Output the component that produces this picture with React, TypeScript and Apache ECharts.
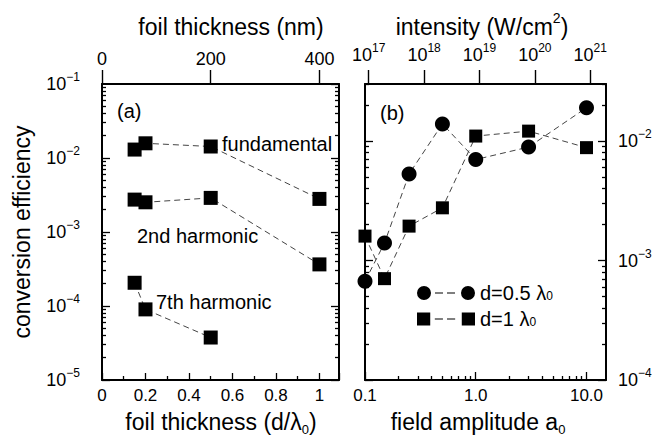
import React, { useEffect, useRef } from "react";
import * as echarts from "echarts";

// ---- data: panel (a) ----
const thicknessD = [0.15, 0.2, 0.5, 1];
const fundamental = [1.3e-2, 1.58e-2, 1.43e-2, 2.8e-3];
const secondHarmonic = [2.74e-3, 2.52e-3, 2.89e-3, 3.65e-4];
const thickness7 = [0.15, 0.2, 0.5];
const seventhHarmonic = [2.06e-4, 9.0e-5, 3.75e-5];

// ---- data: panel (b) ----
const amplitude = [0.1, 0.15, 0.25, 0.5, 1, 3, 10];
const effHalf = [6.7e-4, 1.4e-3, 5.3e-3, 1.39e-2, 7.0e-3, 8.9e-3, 1.9e-2];
const effOne = [1.6e-3, 7.05e-4, 1.94e-3, 2.76e-3, 1.1e-2, 1.21e-2, 8.8e-3];

// ---- tick labels ----
const nmTicks = [0, 200, 400];
const intensityExp = [17, 18, 19, 20, 21];
const dTickLabels = ["0", "0.2", "0.4", "0.6", "0.8", "1"];
const ampTickLabels = ["0.1", "1.0", "10.0"];
const effDecadesA = [-5, -4, -3, -2, -1];
const effDecadesB = [-4, -3, -2, -1];
const ampDecades = [-1, 0, 1];

const LAMBDA_NM = 400;
const D_MAX = 1.09;
const A_MIN = 0.1;
const A_MAX = 15;
const EFF_B_MAX = 3e-2;
// I = 1.37e18 a0^2 / lambda[um]^2
const LOG_C = Math.log10(1.37e18 / Math.pow(LAMBDA_NM / 1000, 2));

const majorsOf = (decades: number[]) => decades.map((e) => Math.pow(10, e));
const minorsOf = (decades: number[]) => {
  const out: number[] = [];
  decades.forEach((e) => {
    for (let k = 2; k <= 9; k++) out.push(k * Math.pow(10, e));
  });
  return out;
};

const FONT = "'Liberation Sans', Arial, Helvetica, sans-serif";

const supRich = {
  b: { fontSize: 18, lineHeight: 26, fontFamily: FONT, color: "#000" },
  s: { fontSize: 12, lineHeight: 12, verticalAlign: "top", fontFamily: FONT, color: "#000" },
};

const powLabel = (v: number) => {
  const e = Math.log10(v);
  const r = Math.round(e);
  if (Math.abs(e - r) > 1e-6) return "";
  return `{b|10}{s|${r < 0 ? "\u2212" + -r : r}}`;
};

const mkLine = () => ({ show: true, onZero: false, lineStyle: { color: "#000", width: 2 } });
const mkTick = () => ({ color: "#000", width: 1.3 });

function logAxis(
  gridIndex: number,
  min: number,
  max: number,
  position: string,
  ticks: number[],
  tickLen: number,
  main: boolean,
  label: any
) {
  return {
    type: "log",
    gridIndex,
    position,
    min,
    max,
    logBase: 10,
    axisLine: main ? mkLine() : { show: false, onZero: false },
    axisTick: { show: true, inside: true, length: tickLen, lineStyle: mkTick(), customValues: ticks },
    minorTick: { show: false },
    splitLine: { show: false },
    minorSplitLine: { show: false },
    axisLabel: label ? label : { show: false },
  };
}

const yLabelLeft = { show: true, margin: 22, formatter: powLabel, rich: supRich };
const yLabelRight = { show: true, margin: 12, formatter: powLabel, rich: supRich };

const lineDash = { type: [6, 4], width: 1, color: "#444" };

function pairs(xs: number[], ys: number[]) {
  return xs.map((x, i) => [x, ys[i]]);
}

const circleIcon =
  "path://M0,7A7,7 0 1 1 14,7A7,7 0 1 1 0,7Z M18,6.5h8v1h-8z M30,6.5h8v1h-8z M44,7A7,7 0 1 1 58,7A7,7 0 1 1 44,7Z";
const squareIcon =
  "path://M0.5,0.5h13v13h-13z M18,6.5h8v1h-8z M30,6.5h8v1h-8z M44.5,0.5h13v13h-13z";

const option: any = {
  animation: false,
  backgroundColor: "#fff",
  textStyle: { fontFamily: FONT },
  grid: [
    { left: 102, top: 84, width: 237, height: 296, outerBoundsMode: "none", containLabel: false },
    { left: 365, top: 84, width: 241, height: 296, outerBoundsMode: "none", containLabel: false },
  ],
  xAxis: [
    {
      type: "value",
      gridIndex: 0,
      position: "bottom",
      min: 0,
      max: D_MAX,
      interval: 0.2,
      axisLine: mkLine(),
      axisTick: { show: true, inside: true, length: 7, lineStyle: mkTick() },
      minorTick: { show: true, splitNumber: 2, length: 4, lineStyle: mkTick() },
      splitLine: { show: false },
      axisLabel: {
        margin: 7,
        fontSize: 17,
        color: "#000",
        fontFamily: FONT,
        showMaxLabel: false,
        formatter: (v: number) => {
          const i = Math.round(v / 0.2);
          return Math.abs(v - i * 0.2) < 1e-6 && i < dTickLabels.length ? dTickLabels[i] : "";
        },
      },
    },
    {
      type: "value",
      gridIndex: 0,
      position: "top",
      min: 0,
      max: D_MAX * LAMBDA_NM,
      axisLine: mkLine(),
      axisTick: { show: true, inside: false, length: 14, lineStyle: { color: "#000", width: 1.4 }, customValues: nmTicks },
      splitLine: { show: false },
      axisLabel: {
        margin: 16,
        fontSize: 18,
        color: "#000",
        fontFamily: FONT,
        customValues: nmTicks,
        formatter: (v: number) => String(v),
      },
    },
    logAxis(1, A_MIN, A_MAX, "bottom", majorsOf(ampDecades), 8, true, {
      margin: 7,
      fontSize: 17,
      color: "#000",
      fontFamily: FONT,
      customValues: majorsOf(ampDecades),
      formatter: (v: number) => ampTickLabels[Math.round(Math.log10(v)) + 1] ?? "",
    }),
    logAxis(1, A_MIN, A_MAX, "bottom", minorsOf(ampDecades), 4, false, null),
    {
      type: "value",
      gridIndex: 1,
      position: "top",
      min: LOG_C + 2 * Math.log10(A_MIN),
      max: LOG_C + 2 * Math.log10(A_MAX),
      axisLine: mkLine(),
      axisTick: { show: true, inside: false, length: 14, lineStyle: { color: "#000", width: 1.4 }, customValues: intensityExp },
      splitLine: { show: false },
      axisLabel: {
        margin: 16,
        customValues: intensityExp,
        formatter: (v: number) => `{b|10}{s|${Math.round(v)}}`,
        rich: supRich,
      },
    },
  ],
  yAxis: [
    logAxis(0, 1e-5, 1e-1, "left", majorsOf(effDecadesA), 8, true, yLabelLeft),
    logAxis(0, 1e-5, 1e-1, "left", minorsOf(effDecadesA), 4, false, null),
    logAxis(0, 1e-5, 1e-1, "right", majorsOf(effDecadesA), 8, true, null),
    logAxis(0, 1e-5, 1e-1, "right", minorsOf(effDecadesA), 4, false, null),
    logAxis(1, 1e-4, EFF_B_MAX, "left", majorsOf(effDecadesB), 8, true, null),
    logAxis(1, 1e-4, EFF_B_MAX, "left", minorsOf(effDecadesB), 4, false, null),
    logAxis(1, 1e-4, EFF_B_MAX, "right", majorsOf(effDecadesB), 8, true, yLabelRight),
    logAxis(1, 1e-4, EFF_B_MAX, "right", minorsOf(effDecadesB), 4, false, null),
  ],
  legend: {
    show: true,
    orient: "vertical",
    left: 417,
    top: 283,
    padding: 0,
    itemWidth: 58,
    itemHeight: 14,
    itemGap: 6,
    selectedMode: false,
    data: [
      { name: "d=0.5 λ0", icon: circleIcon },
      { name: "d=1 λ0", icon: squareIcon },
    ],
    formatter: (name: string) => name.replace("λ0", "λ{sub|0}"),
    textStyle: {
      fontSize: 20,
      lineHeight: 18,
      color: "#000",
      fontFamily: FONT,
      rich: {
        sub: { fontSize: 12, lineHeight: 8, verticalAlign: "bottom", fontFamily: FONT, color: "#000" },
      },
    },
  },
  series: [
    {
      name: "fundamental",
      type: "line",
      xAxisIndex: 0,
      yAxisIndex: 0,
      data: pairs(thicknessD, fundamental),
      symbol: "rect",
      symbolSize: 14,
      itemStyle: { color: "#000" },
      lineStyle: lineDash,
    },
    {
      name: "2nd harmonic",
      type: "line",
      xAxisIndex: 0,
      yAxisIndex: 0,
      data: pairs(thicknessD, secondHarmonic),
      symbol: "rect",
      symbolSize: 14,
      itemStyle: { color: "#000" },
      lineStyle: lineDash,
    },
    {
      name: "7th harmonic",
      type: "line",
      xAxisIndex: 0,
      yAxisIndex: 0,
      data: pairs(thickness7, seventhHarmonic),
      symbol: "rect",
      symbolSize: 14,
      itemStyle: { color: "#000" },
      lineStyle: lineDash,
    },
    {
      name: "d=0.5 λ0",
      type: "line",
      xAxisIndex: 2,
      yAxisIndex: 6,
      data: pairs(amplitude, effHalf),
      symbol: "circle",
      symbolSize: 15,
      itemStyle: { color: "#000" },
      lineStyle: lineDash,
    },
    {
      name: "d=1 λ0",
      type: "line",
      xAxisIndex: 2,
      yAxisIndex: 6,
      data: pairs(amplitude, effOne),
      symbol: "rect",
      symbolSize: 13,
      itemStyle: { color: "#000" },
      lineStyle: lineDash,
    },
  ],
  graphic: [
    { type: "text", left: 117, top: 101, style: { text: "(a)", font: `20px ${FONT}`, fill: "#000" } },
    { type: "text", left: 380, top: 103, style: { text: "(b)", font: `20px ${FONT}`, fill: "#000" } },
    { type: "text", left: 222, top: 134, style: { text: "fundamental", font: `20px ${FONT}`, fill: "#000" } },
    { type: "text", left: 137, top: 226, style: { text: "2nd harmonic", font: `20px ${FONT}`, fill: "#000" } },
    { type: "text", left: 156, top: 292, style: { text: "7th harmonic", font: `20px ${FONT}`, fill: "#000" } },
    {
      type: "text",
      x: 22,
      y: 232,
      rotation: Math.PI / 2,
      style: { text: "conversion efficiency", font: `23px ${FONT}`, fill: "#000", align: "center", verticalAlign: "middle" },
    },
    {
      type: "text",
      x: 231,
      y: 27,
      style: { text: "foil thickness (nm)", font: `23px ${FONT}`, fill: "#000", align: "center", verticalAlign: "middle" },
    },
    {
      type: "text",
      x: 482,
      y: 27,
      style: {
        text: "{m|intensity (W/cm}{s|2}{m|)}",
        fill: "#000",
        align: "center",
        verticalAlign: "middle",
        rich: {
          m: { fontSize: 23, lineHeight: 32, fontFamily: FONT, fill: "#000" },
          s: { fontSize: 14, lineHeight: 14, verticalAlign: "top", fontFamily: FONT, fill: "#000" },
        },
      },
    },
    {
      type: "text",
      x: 221,
      y: 422,
      style: {
        text: "{m|foil thickness (d/λ}{s|0}{m|)}",
        fill: "#000",
        align: "center",
        verticalAlign: "middle",
        rich: {
          m: { fontSize: 23, lineHeight: 28, fontFamily: FONT, fill: "#000" },
          s: { fontSize: 13, lineHeight: 13, verticalAlign: "bottom", fontFamily: FONT, fill: "#000" },
        },
      },
    },
    {
      type: "text",
      x: 478,
      y: 422,
      style: {
        text: "{m|field amplitude a}{s|0}",
        fill: "#000",
        align: "center",
        verticalAlign: "middle",
        rich: {
          m: { fontSize: 23, lineHeight: 28, fontFamily: FONT, fill: "#000" },
          s: { fontSize: 13, lineHeight: 13, verticalAlign: "bottom", fontFamily: FONT, fill: "#000" },
        },
      },
    },
  ],
};

export default function App() {
  const ref = useRef<HTMLDivElement>(null);
  useEffect(() => {
    if (!ref.current) return;
    const chart = echarts.init(ref.current, null, { renderer: "svg" });
    chart.setOption(option);
    return () => chart.dispose();
  }, []);
  return (
    <div
      ref={ref}
      style={{ position: "fixed", left: 0, top: 0, width: 663, height: 439, background: "#fff" }}
    />
  );
}
